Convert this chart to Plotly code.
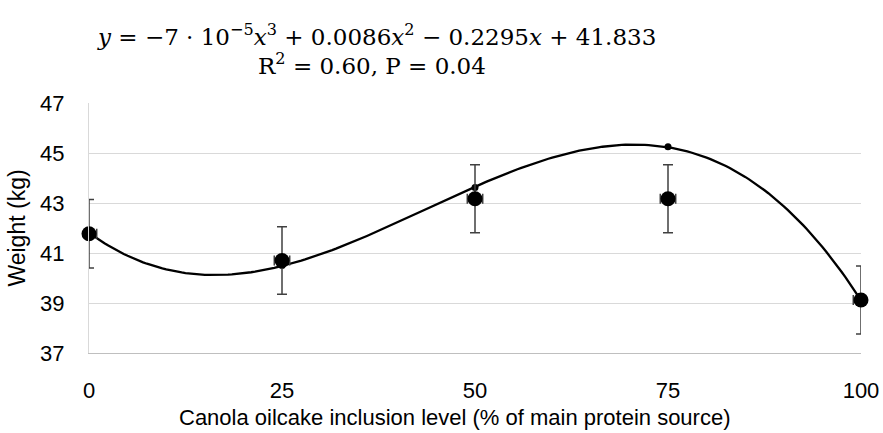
import numpy as np
import plotly.graph_objects as go

# Data
levels = [0, 25, 50, 75, 100]                  # canola oilcake inclusion level (%)
weight_mean = [41.77, 40.70, 43.17, 43.17, 39.12]  # observed mean weight (kg)
weight_err = [1.37, 1.35, 1.36, 1.36, 1.36]        # vertical error (kg)
level_err = [1, 1, 1, 1, 1]                        # small horizontal error bars
predicted = [41.80, 40.50, 43.62, 45.25, 39.10]    # small dots on trendline

x_ticks = [0, 25, 50, 75, 100]
y_ticks = [37, 39, 41, 43, 45, 47]

# cubic trendline fitted to the predicted points
coef = np.polyfit(levels, predicted, 3)
xs = np.linspace(0, 100, 201)
ys = np.polyval(coef, xs)

fig = go.Figure()
fig.add_trace(go.Scatter(x=xs, y=ys, mode="lines",
                         line=dict(color="black", width=2.3), hoverinfo="skip",
                         showlegend=False))
fig.add_trace(go.Scatter(x=levels, y=predicted, mode="markers",
                         marker=dict(color="black", size=7), showlegend=False))
fig.add_trace(go.Scatter(
    x=levels, y=weight_mean, mode="markers",
    marker=dict(color="black", size=15),
    error_y=dict(type="data", array=weight_err, color="#404040", thickness=1.5, width=5),
    error_x=dict(type="data", array=level_err, color="#404040", thickness=1.5, width=5),
    showlegend=False, cliponaxis=False))

font_main = "Liberation Sans, Arial, sans-serif"
fig.update_layout(
    width=883, height=433,
    margin=dict(l=89, r=22, t=103, b=80),
    plot_bgcolor="white", paper_bgcolor="white",
    font=dict(family=font_main, size=22, color="black"),
    xaxis=dict(range=[0, 100], tickvals=x_ticks, showgrid=False, zeroline=False,
               showline=True, linecolor="#bfbfbf", linewidth=1.3, ticks="",
               ticklabelstandoff=17, automargin=False),
    yaxis=dict(range=[37, 47], tickvals=y_ticks, showgrid=True, gridcolor="#d9d9d9",
               gridwidth=1.3, zeroline=False, showline=True, linecolor="#d9d9d9",
               linewidth=1.3, ticks="", ticklabelstandoff=19, automargin=False,
               title=dict(text="Weight (kg)", font=dict(size=23), standoff=7)),
)

fig.add_annotation(xref="paper", yref="paper", x=0.474, y=0, yshift=-64,
                   text="Canola oilcake inclusion level (% of main protein source)",
                   showarrow=False, font=dict(family=font_main, size=22, color="black"),
                   xanchor="center", yanchor="middle")

eq_font = dict(family="DejaVu Serif, Liberation Serif, serif", size=23, color="black")
fig.add_annotation(xref="paper", yref="paper", x=0.373, y=1.0, yshift=68,
                   text="<i>y</i> = −7 · 10<sup>−5</sup><i>x</i><sup>3</sup> + 0.0086<i>x</i><sup>2</sup> − 0.2295<i>x</i> + 41.833",
                   showarrow=False, font=eq_font, xanchor="center", yanchor="middle")
fig.add_annotation(xref="paper", yref="paper", x=0.367, y=1.0, yshift=39,
                   text="R<sup>2</sup> = 0.60, P = 0.04",
                   showarrow=False, font=eq_font, xanchor="center", yanchor="middle")

fig.write_html("out.html")
